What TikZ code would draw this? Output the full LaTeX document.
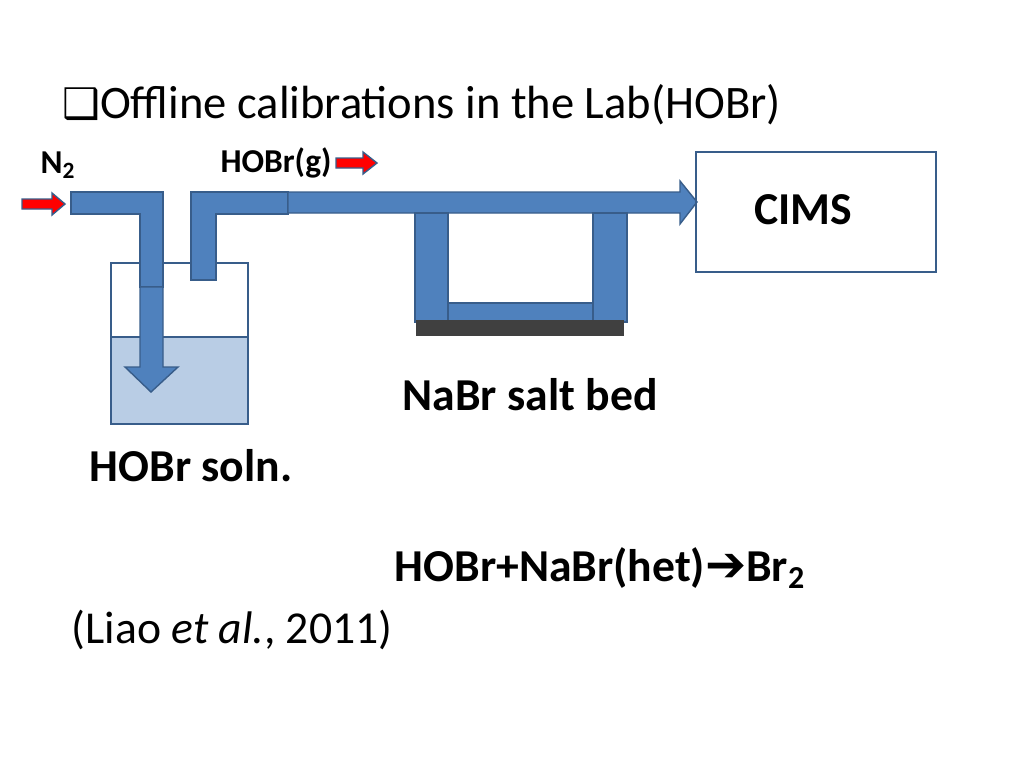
\documentclass[tikz,border=0pt]{standalone}
\usepackage{fontspec}
\setmainfont{Carlito}
\newfontfamily\symfont{DejaVu Sans}
\definecolor{pipeblue}{RGB}{79,129,189}
\definecolor{pipeedge}{RGB}{56,93,138}
\definecolor{liquid}{RGB}{185,205,229}
\definecolor{saltgray}{RGB}{64,64,64}
\tikzset{
  pipe/.style={fill=pipeblue, draw=pipeedge, line width=0.8pt},
  flow/.style={fill=red, draw=pipeedge, line width=0.8pt},
  lbl/.style={font=\bfseries\fontsize{26}{30}\selectfont, inner sep=0pt},
  small/.style={font=\bfseries\fontsize{19}{22}\selectfont, inner sep=0pt},
}
\begin{document}
\begin{tikzpicture}[x=0.02cm, y=-0.02cm]
\useasboundingbox (0,0) rectangle (1024,768);

% title
\node[anchor=west, inner sep=0pt, font=\fontsize{26.5}{30}\selectfont] (title) at (62,105)
  {{\symfont\fontsize{24}{28}\selectfont ❑}Offline calibrations in the Lab(HOBr)};

% beaker with solution
\fill[liquid] (111,337) rectangle (248,424);
\draw[pipeedge, line width=1pt] (111,263) rectangle (248,424);
\draw[pipeedge, line width=1pt] (111,337) -- (248,337);

% inlet pipe
\draw[pipe] (71,192) -- (163,192) -- (163,287) -- (140,287) -- (140,214) -- (71,214) -- cycle;
\draw[pipe] (140,287) -- (163,287) -- (163,367) -- (178,367) -- (151,392)
  -- (125,367) -- (140,367) -- cycle;

% outlet pipe
\draw[pipe] (191,280) -- (191,192) -- (288,192) -- (288,214) -- (216,214) -- (216,280) -- cycle;
\draw[pipe] (288,192) -- (680,192) -- (680,181) -- (697,202) -- (680,224)
  -- (680,213) -- (288,213) -- cycle;

% salt bed loop
\draw[pipe] (415,213) rectangle (448,322);
\draw[pipe] (593,213) rectangle (627,322);
\draw[pipe] (448,303) rectangle (593,322);
\fill[saltgray] (416,320) rectangle (624,336);

% flow arrows
\draw[flow] (22,199) -- (52,199) -- (52,193) -- (65,204) -- (52,215) -- (52,209) -- (22,209) -- cycle;
\draw[flow] (336,158) -- (363,158) -- (363,152) -- (377,163) -- (363,174) -- (363,168) -- (336,168) -- cycle;

% CIMS
\node[draw=pipeedge, line width=1.2pt, inner sep=0pt,
  minimum width=4.8cm, minimum height=2.4cm] (cims) at (816,212) {};
\node[lbl] (cimslbl) at (803,210) {CIMS};

% labels
\node[small] (n2) at (58,165) {N\textsubscript{2}};
\node[small] (hobrg) at (276,163) {HOBr(g)};
\node[lbl] (salt) at (530,395) {NaBr salt bed};
\node[lbl] (soln) at (191,466) {HOBr soln.};
\node[lbl] (rxn) at (600,568) {HOBr+NaBr(het){\symfont\bfseries\fontsize{28}{30}\selectfont ➔}Br\textsubscript{2}};
\node[inner sep=0pt, font=\fontsize{26}{30}\selectfont] (ref) at (232,630) {(Liao \textit{et al.}, 2011)};
\end{tikzpicture}
\end{document}
